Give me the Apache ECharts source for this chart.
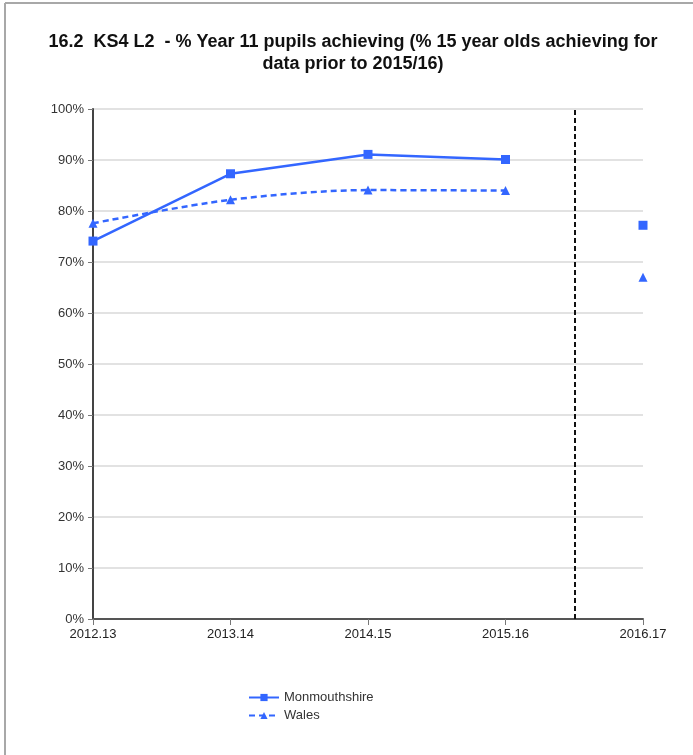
<!DOCTYPE html>
<html>
<head>
<meta charset="utf-8">
<script src="https://cdn.jsdelivr.net/npm/echarts@6/dist/echarts.min.js"></script>
<style>
html,body{margin:0;padding:0;background:#fff;}
#c{width:693px;height:755px;}
</style>
</head>
<body>
<div id="c"></div>
<script>
const categories = ['2012.13', '2013.14', '2014.15', '2015.16', '2016.17'];
const monmouthshire = [74.1, 87.3, 91.1, 90.1, null];
const wales = [77.6, 82.2, 84.1, 84.0, null];
const monmouthshireLatest = 77.2;
const walesLatest = 67.0;
const yTicks = [0, 10, 20, 30, 40, 50, 60, 70, 80, 90, 100];
const dividerPosition = 3.5;

const blue = '#3366ff';
const toPairs = arr => arr.map((v, i) => [i, v]);
const lastIdx = categories.length - 1;
const ff = 'Liberation Sans, Arial, sans-serif';

const chart = echarts.init(document.getElementById('c'), null, {renderer: 'canvas'});
chart.setOption({
  animation: false,
  backgroundColor: '#fff',
  textStyle: {fontFamily: ff},
  title: {
    text: '16.2  KS4 L2  - % Year 11 pupils achieving (% 15 year olds achieving for\ndata prior to 2015/16)',
    left: 348, top: 26, textAlign: 'center',
    textStyle: {fontSize: 18, fontWeight: 'bold', color: '#111', lineHeight: 22, fontFamily: ff}
  },
  graphic: [
    {type: 'line', shape: {x1: 5, y1: 3, x2: 693, y2: 3}, style: {stroke: '#a8a8a8', lineWidth: 2}},
    {type: 'line', shape: {x1: 5, y1: 3, x2: 5, y2: 755}, style: {stroke: '#a8a8a8', lineWidth: 2}}
  ],
  grid: {left: 93, right: 50, top: 109, bottom: 136},
  xAxis: {
    type: 'value', min: 0, max: lastIdx, interval: 1,
    axisLine: {show: true, lineStyle: {color: '#555', width: 2}},
    axisTick: {show: true, length: 6, lineStyle: {color: '#777'}},
    axisLabel: {formatter: v => categories[v] || '', color: '#222', fontSize: 13, margin: 9},
    splitLine: {show: false}
  },
  yAxis: {
    type: 'value', min: yTicks[0], max: yTicks[yTicks.length - 1], interval: 10,
    axisLine: {show: true, lineStyle: {color: '#444', width: 2}},
    axisTick: {show: true, length: 5, lineStyle: {color: '#777'}},
    axisLabel: {formatter: '{value}%', color: '#333', fontSize: 13, margin: 9},
    splitLine: {show: true, lineStyle: {color: '#e2e2e2', width: 2}}
  },
  legend: {
    orient: 'vertical', left: 243, top: 686, itemGap: 5,
    itemWidth: 30, itemHeight: 9,
    textStyle: {fontSize: 13, color: '#333'},
    data: ['Monmouthshire', 'Wales']
  },
  series: [
    {
      name: 'Monmouthshire', type: 'line', data: toPairs(monmouthshire),
      symbol: 'rect', symbolSize: 9, color: blue,
      lineStyle: {width: 2.5, color: blue}, itemStyle: {color: blue},
      markLine: {
        silent: true, symbol: 'none', label: {show: false},
        lineStyle: {color: '#111', type: [5, 3], width: 2},
        data: [{xAxis: dividerPosition}]
      }
    },
    {
      name: 'Wales', type: 'line', data: toPairs(wales), smooth: 0.3,
      symbol: 'triangle', symbolSize: 9, color: blue,
      lineStyle: {width: 2.5, color: blue, type: [6, 4]}, itemStyle: {color: blue}
    },
    {
      name: 'Monmouthshire', type: 'scatter', data: [[lastIdx, monmouthshireLatest]],
      symbol: 'rect', symbolSize: 9, itemStyle: {color: blue, opacity: 1}
    },
    {
      name: 'Wales', type: 'scatter', data: [[lastIdx, walesLatest]],
      symbol: 'triangle', symbolSize: 9, itemStyle: {color: blue, opacity: 1}
    }
  ]
});
</script>
</body>
</html>
